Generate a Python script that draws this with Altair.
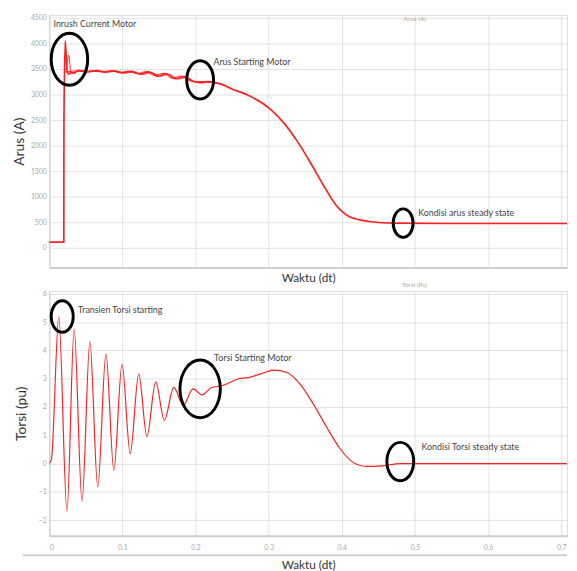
import altair as alt
import pandas as pd

FONT = "Lato"
RED = "#ff1f1f"

# ---------------- Current (Arus) ----------------
T_A = [0, 0.0199, 0.0201, 0.0218, 0.0245, 0.0270, 0.0300, 0.0340, 0.040, 0.052, 0.064, 0.076,
       0.088, 0.100, 0.112, 0.124, 0.136, 0.148, 0.160, 0.172, 0.184, 0.196, 0.207, 0.218,
       0.235, 0.249, 0.272, 0.301, 0.321, 0.339, 0.357, 0.375, 0.392, 0.410, 0.437, 0.473,
       0.550, 0.708]
I_A = [115, 115, 2500, 4050, 3450, 3400, 3440, 3420, 3475, 3445, 3470, 3440,
       3465, 3425, 3455, 3400, 3445, 3360, 3410, 3310, 3350, 3260, 3235, 3255,
       3205, 3115, 2987, 2731, 2442, 2090, 1673, 1225, 840, 615, 519, 485,
       480, 480]

T_B = [0.0201, 0.0235, 0.0265, 0.0300, 0.036, 0.044, 0.056, 0.068, 0.080, 0.092, 0.104,
       0.116, 0.128, 0.140, 0.152, 0.164, 0.176, 0.188, 0.200, 0.212, 0.222, 0.235]
I_B = [3460, 3520, 3775, 3400, 3455, 3470, 3445, 3465, 3440, 3460, 3420,
       3445, 3395, 3430, 3360, 3395, 3305, 3335, 3255, 3245, 3235, 3205]

T_C = [0.0201, 0.030, 0.036, 0.048, 0.060, 0.072, 0.084, 0.096, 0.108, 0.120, 0.132,
       0.144, 0.156, 0.168, 0.180, 0.192, 0.204, 0.216, 0.235]
I_C = [3440, 3455, 3465, 3450, 3470, 3445, 3470, 3430, 3460, 3410, 3450,
       3375, 3420, 3320, 3365, 3270, 3250, 3260, 3205]

# ---------------- Torque (Torsi) ----------------
T_TQ = [0, 0.003, 0.013, 0.0242, 0.034, 0.0448, 0.0555, 0.0663, 0.0775, 0.0883, 0.0995,
        0.1107, 0.1223, 0.1335, 0.1456, 0.1573, 0.1703, 0.1832, 0.1966, 0.2088, 0.222,
        0.236, 0.258, 0.272, 0.290, 0.307, 0.325, 0.343, 0.361, 0.379, 0.397, 0.415,
        0.433, 0.455, 0.480, 0.520, 0.708]
TQ = [0, 0.15, 5.19, -1.68, 4.75, -1.34, 4.30, -0.83, 3.88, -0.24, 3.51,
      0.35, 3.16, 0.96, 2.89, 1.53, 2.69, 2.06, 2.64, 2.43, 2.69,
      2.75, 2.99, 3.04, 3.18, 3.30, 3.22, 2.81, 2.11, 1.30, 0.55, 0.05,
      -0.10, -0.08, 0.0, 0.0, 0.0]

# ---------------- Annotations ----------------
TOP_LABELS = ["Inrush Current Motor", "Arus Starting Motor", "Kondisi arus steady state"]
TOP_LABEL_T = [0.0058, 0.2245, 0.5045]
TOP_LABEL_V = [4385, 3628, 692]
TOP_RING_T = [0.0276, 0.2063, 0.4839]
TOP_RING_V = [3692, 3288, 487]
TOP_RING_H = [53, 39, 29]

BOT_LABELS = ["Transien Torsi starting", "Torsi Starting Motor", "Kondisi Torsi steady state"]
BOT_LABEL_T = [0.0394, 0.2254, 0.509]
BOT_LABEL_V = [5.42, 3.74, 0.59]
BOT_RING_T = [0.0177, 0.2063, 0.480]
BOT_RING_V = [5.20, 2.64, 0.07]
BOT_RING_H = [32, 58.7, 39]

X_TICKS = [0, 0.1, 0.2, 0.3, 0.4, 0.5, 0.6, 0.7]
Y_TOP_TICKS = [0, 500, 1000, 1500, 2000, 2500, 3000, 3500, 4000, 4500]
Y_BOT_TICKS = [-2, -1, 0, 1, 2, 3, 4, 5, 6]

ELLIPSE = "M -0.7 0 A 0.7 1 0 1 0 0.7 0 A 0.7 1 0 1 0 -0.7 0 Z"

W = 527
H_TOP = 257
H_BOT = 249

cur = pd.concat([
    pd.DataFrame({"t": T_A, "v": I_A, "series": "a", "w": 1.7}),
    pd.DataFrame({"t": T_B, "v": I_B, "series": "b", "w": 0.9}),
    pd.DataFrame({"t": T_C, "v": I_C, "series": "c", "w": 0.9}),
])
tq = pd.DataFrame({"t": T_TQ, "v": TQ})
top_lab = pd.DataFrame({"t": TOP_LABEL_T, "v": TOP_LABEL_V, "label": TOP_LABELS})
top_ring = pd.DataFrame({"t": TOP_RING_T, "v": TOP_RING_V, "s": [h * h for h in TOP_RING_H]})
bot_lab = pd.DataFrame({"t": BOT_LABEL_T, "v": BOT_LABEL_V, "label": BOT_LABELS})
bot_ring = pd.DataFrame({"t": BOT_RING_T, "v": BOT_RING_V, "s": [h * h for h in BOT_RING_H]})

x_scale = alt.Scale(domain=[0, 0.708], nice=False, zero=False)
y_top_scale = alt.Scale(domain=[-380, 4558], nice=False, zero=False)
y_bot_scale = alt.Scale(domain=[-2.55, 6.1], nice=False, zero=False)

common_axis = dict(labelFont=FONT, labelFontSize=7, labelColor="#aaaaaa", labelOverlap=False,
                   titleFont=FONT, titleFontWeight="normal", titleColor="#333333",
                   gridColor="#e2e2e2", domainColor="#cfcfcf", ticks=False)

# ---------- top panel ----------
top_x = alt.X("t:Q", scale=x_scale,
              axis=alt.Axis(values=X_TICKS, labels=False, title="Waktu (dt)", titleFontSize=12,
                            titlePadding=5, domainWidth=2, **common_axis))
top_y = alt.Y("v:Q", scale=y_top_scale,
              axis=alt.Axis(values=Y_TOP_TICKS, format="d", title="Arus (A)", titleFontSize=14,
                            titlePadding=4, labelPadding=3, **common_axis))

top_line = alt.Chart(cur).mark_line(interpolate="monotone", clip=True, color=RED).encode(
    x=top_x, y=top_y, detail="series:N",
    strokeWidth=alt.StrokeWidth("w:Q", scale=None))
top_ring_l = alt.Chart(top_ring).mark_point(shape=ELLIPSE, filled=False, stroke="black",
                                           strokeWidth=3, opacity=1).encode(
    x=top_x, y=top_y, size=alt.Size("s:Q", scale=None))
top_text = alt.Chart(top_lab).mark_text(align="left", baseline="middle", font=FONT,
                                        fontSize=9, color="#444444").encode(
    x=top_x, y=top_y, text="label:N")
top_title = alt.Chart(pd.DataFrame({"txt": ["Arus (A)"]})).mark_text(
    font=FONT, fontSize=6.5, color="#aaaaaa", baseline="middle", align="center").encode(
    x=alt.value(372), y=alt.value(4), text="txt:N")
bot_title = alt.Chart(pd.DataFrame({"txt": ["Torsi (Pu)"]})).mark_text(
    font=FONT, fontSize=6.5, color="#aaaaaa", baseline="middle", align="center").encode(
    x=alt.value(372), y=alt.value(H_TOP + 18), text="txt:N")

top = alt.layer(top_line, top_ring_l, top_text, top_title, bot_title).properties(
    width=W, height=H_TOP)

# ---------- bottom panel ----------
bot_x = alt.X("t:Q", scale=x_scale,
              axis=alt.Axis(values=X_TICKS, format=".1~f", title="Waktu (dt)", titleFontSize=12,
                            labelPadding=8.5, titlePadding=8.5, domainWidth=2, **common_axis))
bot_y = alt.Y("v:Q", scale=y_bot_scale,
              axis=alt.Axis(values=Y_BOT_TICKS, format="d", title="Torsi (pu)", titleFontSize=14,
                            titlePadding=10, labelPadding=3, **common_axis))

bot_line = alt.Chart(tq).mark_line(interpolate="monotone", clip=True, color=RED,
                                   strokeWidth=1.2).encode(x=bot_x, y=bot_y)
bot_ring_l = alt.Chart(bot_ring).mark_point(shape=ELLIPSE, filled=False, stroke="black",
                                           strokeWidth=3, opacity=1).encode(
    x=bot_x, y=bot_y, size=alt.Size("s:Q", scale=None))
bot_text = alt.Chart(bot_lab).mark_text(align="left", baseline="middle", font=FONT,
                                        fontSize=9, color="#444444").encode(
    x=bot_x, y=bot_y, text="label:N")
sep = alt.Chart(pd.DataFrame({"k": [0]})).mark_rule(color="#d0d0d0", strokeWidth=2).encode(
    x=alt.value(-27), x2=alt.value(W), y=alt.value(H_BOT + 20))

bottom = alt.layer(bot_line, bot_ring_l, bot_text, sep).properties(width=W, height=H_BOT)

chart = alt.vconcat(top, bottom, spacing=0).properties(
    padding={"left": 4, "top": 0, "right": 0, "bottom": 0}
).configure_view(stroke="#dddddd").configure(background="white")

chart.save("out.html", embed_options={"renderer": "svg", "actions": False})
